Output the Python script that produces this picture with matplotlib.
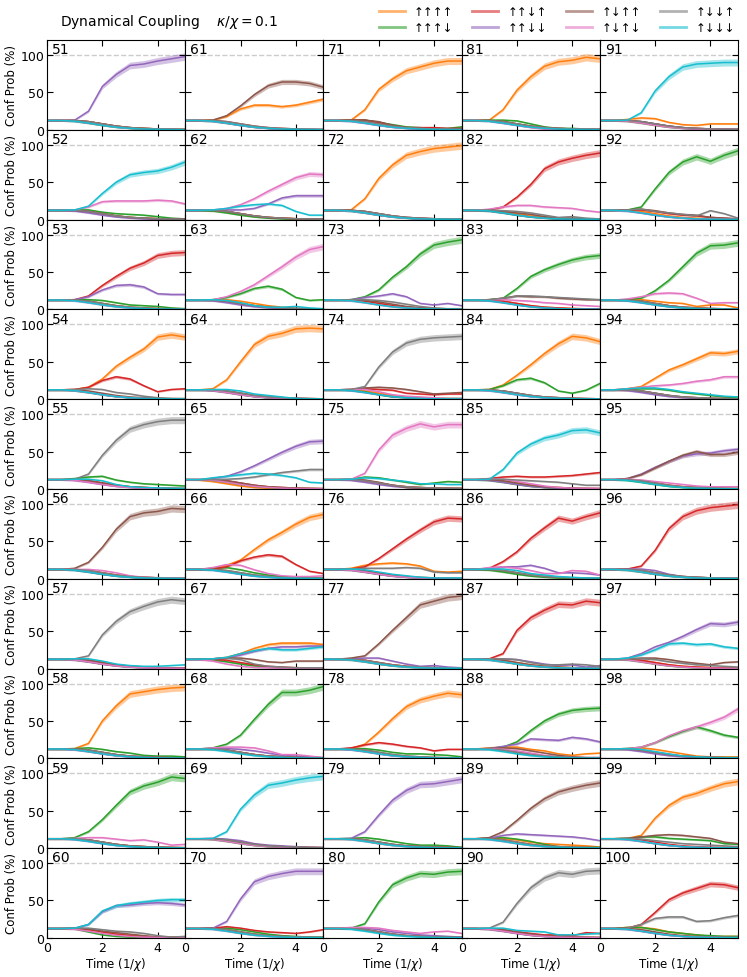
import numpy as np
import matplotlib
matplotlib.use("Agg")
import matplotlib.pyplot as plt
from matplotlib.lines import Line2D

# tiempo (1/chi) en el que se leyeron los puntos
t = [0, 0.5, 1.0, 1.5, 2.0, 2.5, 3.0, 3.5, 4.0, 4.5, 5.0]

keys = ['uuuu', 'uuud', 'uudu', 'uudd', 'uduu', 'udud', 'uddu', 'uddd']
labels = ['↑↑↑↑', '↑↑↑↓', '↑↑↓↑', '↑↑↓↓', '↑↓↑↑', '↑↓↑↓', '↑↓↓↑', '↑↓↓↓']
colors = ['C1', 'C2', 'C3', 'C4', 'C5', 'C6', 'C7', 'C9']

# curvas de fondo (configuraciones que decaen)
bg_slow = [12.5, 12.5, 12.5, 11, 8, 5, 3, 2, 1.2, 0.8, 0.5]
bg_fast = [12.5, 12.5, 11.5, 9, 6, 3.5, 2, 1, 0.6, 0.4, 0.3]

p51 = {'uudd': [12.5, 12.5, 13, 25, 58, 74, 86, 88, 92, 95, 98]}
p52 = {'uddd': [12.5, 12.5, 13, 18, 35, 50, 60, 63, 65, 70, 77],
       'udud': [12.5, 12.5, 13, 17, 24, 25, 25, 25, 26, 25, 21],
       'uuud': [12.5, 12.5, 13, 13, 10, 8, 7, 6, 4, 2, 1]}
p53 = {'uudu': [12.5, 12.5, 13, 18, 32, 44, 55, 62, 72, 75, 76],
       'uudd': [12.5, 12.5, 13, 17, 26, 32, 33, 30, 21, 20, 20],
       'uuud': [12.5, 12.5, 13, 13, 12, 9, 6, 5, 4, 2, 1]}
p54 = {'uuuu': [12.5, 12.5, 13, 16, 27, 44, 56, 67, 83, 86, 83],
       'uudu': [12.5, 12.5, 13, 16, 25, 30, 27, 18, 10, 13, 14],
       'uddu': [12.5, 12.5, 13, 14, 13, 9, 7, 4, 2, 1, 1]}
p55 = {'uddu': [12.5, 12.5, 13, 20, 45, 65, 80, 86, 90, 92, 92],
       'uuud': [12.5, 12.5, 14, 16, 17, 12, 9, 7, 6, 5, 4],
       'uddd': [12.5, 12.5, 13, 13, 11, 6, 3, 2, 1.5, 1, 1]}
p56 = {'uduu': [12.5, 12.5, 14, 22, 42, 66, 83, 88, 90, 94, 93],
       'udud': [12.5, 12.5, 12.5, 12.5, 11, 8, 4, 2, 1.5, 1, 1]}
p57 = {'uddu': [12.5, 12.5, 13, 17, 45, 63, 76, 83, 89, 92, 90],
       'uddd': [12.5, 12.5, 13, 13, 10, 6, 4, 3, 3, 4, 5]}
p58 = {'uuuu': [12.5, 12.5, 13, 20, 50, 70, 86, 89, 92, 94, 95],
       'uuud': [12.5, 12.5, 13, 14, 12, 9, 7, 4, 3, 3, 2]}
p59 = {'uuud': [12.5, 12.5, 14, 22, 38, 57, 75, 83, 88, 95, 93],
       'udud': [12.5, 12.5, 13, 14, 14, 12, 10, 11, 8, 4, 5]}
p60 = {'uddd': [12.5, 12.5, 13, 18, 36, 43, 46, 48, 50, 51, 51],
       'uudd': [12.5, 12.5, 13, 18, 35, 43, 44, 46, 47, 46, 44],
       'uddu': [12.5, 12.5, 13, 13, 11, 9, 8, 6, 3, 1, 2],
       'uduu': [12.5, 12.5, 13, 12, 9, 7, 5, 3, 1, 0.5, 0.5],
       'uuud': [12.5, 12.5, 12, 8, 4, 2, 1, 0.5, 0.3, 0.2, 0.2]}

p61 = {'uduu': [12.5, 12.5, 13, 19, 32, 47, 59, 64, 64, 62, 57],
       'uuuu': [12.5, 12.5, 13, 18, 28, 33, 33, 31, 33, 37, 41]}
p62 = {'udud': [12.5, 12.5, 13, 15, 20, 28, 38, 47, 56, 61, 60],
       'uudd': [12.5, 12.5, 13, 13, 13, 15, 21, 29, 32, 32, 32],
       'uddd': [12.5, 12.5, 13, 15, 18, 20, 21, 19, 11, 6, 6]}
p63 = {'udud': [12.5, 12.5, 13, 17, 24, 33, 45, 57, 70, 80, 84],
       'uuud': [12.5, 12.5, 13, 16, 21, 28, 31, 27, 16, 12, 13],
       'uddd': [12.5, 12.5, 13, 12, 9, 5, 3, 3, 4, 2, 1],
       'uuuu': [12.5, 12.5, 13, 13, 11, 8, 5, 3, 1, 0.5, 0.5]}
p64 = {'uuuu': [12.5, 12.5, 14, 26, 50, 73, 84, 88, 94, 95, 94],
       'uddd': [12.5, 12.5, 13, 13, 11, 7, 5, 3, 1, 0.5, 0.3]}
p65 = {'uudd': [12.5, 12.5, 14, 17, 23, 31, 40, 49, 57, 63, 64],
       'uddu': [12.5, 12.5, 12.5, 13, 14, 16, 19, 22, 24, 26, 26],
       'uddd': [12.5, 12.5, 15, 17, 19, 21, 20, 18, 15, 9, 8],
       'uuuu': [12.5, 12, 10, 7, 4, 2, 1, 0.5, 0.3, 0.2, 0.2]}
p66 = {'uuuu': [12.5, 12.5, 14, 18, 25, 39, 52, 62, 73, 82, 86],
       'uudu': [12.5, 12.5, 13, 16, 24, 29, 32, 30, 19, 10, 7],
       'udud': [12.5, 12.5, 15, 19, 18, 12, 7, 4, 3, 3, 4],
       'uuud': [12.5, 12.5, 14, 15, 12, 8, 5, 3, 2, 1, 1]}
p67 = {'uuuu': [12.5, 12.5, 13, 15, 20, 27, 32, 34, 34, 34, 32],
       'uudd': [12.5, 12.5, 13, 14, 18, 23, 27, 29, 29, 30, 30],
       'uddd': [12.5, 12.5, 13, 15, 20, 24, 27, 25, 25, 27, 29],
       'uduu': [12.5, 12.5, 13, 14, 14, 12, 9, 8, 10, 10, 10],
       'uddu': [12.5, 12.5, 13, 14, 12, 6, 3, 2, 1, 1, 1],
       'udud': [12.5, 12, 10, 6, 3, 1.5, 1, 0.5, 0.3, 0.3, 0.3]}
p68 = {'uuud': [12.5, 12.5, 14, 19, 31, 52, 72, 88, 88, 91, 96],
       'udud': [12.5, 12.5, 14, 15, 15, 14, 10, 5, 5, 3, 1],
       'uudd': [12.5, 12.5, 13, 13, 12, 10, 7, 4, 3, 2, 1]}
p69 = {'uddd': [12.5, 12.5, 13, 22, 52, 71, 84, 87, 91, 94, 96],
       'uudd': [12.5, 12.5, 13, 12, 10, 6, 4, 3, 2, 1, 1]}
p70 = {'uudd': [12.5, 12.5, 13, 22, 52, 75, 82, 86, 89, 89, 89],
       'uudu': [12.5, 12.5, 13, 15, 13, 10, 8, 7, 6, 8, 11],
       'uuud': [12.5, 12.5, 13, 13, 11, 8, 5, 3, 2, 1, 1]}

p71 = {'uuuu': [12.5, 12.5, 13, 27, 54, 68, 79, 84, 89, 92, 92],
       'uudu': [12.5, 12.5, 13, 13, 10, 6, 3, 3, 3, 2, 2],
       'uuud': [12.5, 12.5, 13, 13, 10, 7, 4, 3, 2, 2, 4],
       'uduu': [12.5, 12.5, 13, 13, 11, 6, 3, 2, 1, 1, 1]}
p72 = {'uuuu': [12.5, 12.5, 13, 28, 55, 73, 86, 91, 95, 97, 99]}
p73 = {'uuud': [12.5, 12.5, 13, 17, 26, 43, 57, 74, 86, 90, 93],
       'uudd': [12.5, 12.5, 13, 16, 18, 21, 17, 8, 6, 8, 5],
       'uddu': [12.5, 12.5, 13, 13, 12, 10, 7, 4, 2, 1, 1],
       'uduu': [12.5, 12.5, 13, 12, 10, 7, 4, 2, 1, 0.5, 0.5]}
p74 = {'uddu': [12.5, 12.5, 13, 17, 43, 63, 75, 80, 82, 83, 84],
       'uduu': [12.5, 12.5, 13, 15, 16, 15, 13, 10, 7, 8, 9],
       'uudu': [12.5, 12.5, 13, 14, 13, 12, 8, 7, 6, 7, 7],
       'udud': [12.5, 12.5, 13, 13, 10, 6, 4, 3, 2, 1, 1],
       'uuud': [12.5, 12.5, 12, 10, 6, 3, 2, 1, 1, 1, 1]}
p75 = {'udud': [12.5, 12.5, 13, 21, 52, 72, 81, 87, 83, 86, 86],
       'uuud': [12.5, 12.5, 13, 16, 15, 12, 9, 6, 8, 10, 9],
       'uddd': [12.5, 12.5, 13, 15, 14, 12, 10, 7, 7, 6, 6],
       'uduu': [12.5, 12.5, 13, 12, 9, 5, 2, 1, 1, 1, 1]}
p76 = {'uudu': [12.5, 12.5, 13, 16, 27, 40, 53, 65, 76, 81, 80],
       'uuuu': [12.5, 12.5, 14, 18, 20, 21, 20, 17, 10, 9, 10],
       'uddu': [12.5, 12.5, 13, 14, 14, 14, 15, 14, 9, 8, 8],
       'uddd': [12.5, 12.5, 13, 12, 9, 6, 4, 2, 1, 1, 1]}
p77 = {'uduu': [12.5, 12.5, 14, 17, 33, 51, 68, 85, 90, 95, 97],
       'uudd': [12.5, 12.5, 13, 14, 14, 10, 6, 3, 4, 2, 1]}
p78 = {'uuuu': [12.5, 12.5, 13, 19, 35, 53, 69, 78, 83, 87, 85],
       'uudu': [12.5, 12.5, 14, 18, 21, 19, 16, 14, 10, 12, 12],
       'uuud': [12.5, 12.5, 13, 13, 11, 8, 6, 6, 5, 4, 2]}
p79 = {'uudd': [12.5, 12.5, 13, 22, 44, 64, 77, 85, 86, 89, 92],
       'uuud': [12.5, 12.5, 13, 14, 12, 9, 6, 4, 4, 3, 1],
       'uuuu': [12.5, 12.5, 12, 10, 6, 4, 3, 2, 2, 1, 1]}
p80 = {'uuud': [12.5, 12.5, 13, 19, 48, 71, 80, 86, 85, 88, 89],
       'udud': [12.5, 12.5, 14, 14, 13, 10, 8, 6, 8, 9, 6],
       'uudd': [12.5, 12.5, 13, 13, 11, 8, 6, 4, 3, 2, 1]}

p81 = {'uuuu': [12.5, 12.5, 13, 27, 53, 71, 85, 91, 93, 97, 95],
       'uuud': [12.5, 12.5, 13, 13, 12, 8, 4, 2, 2, 1, 1],
       'udud': [12.5, 12.5, 12, 9, 6, 3, 1, 0.5, 0.5, 0.5, 0.5]}
p82 = {'uudu': [12.5, 12.5, 13, 17, 30, 47, 68, 77, 82, 86, 89],
       'udud': [12.5, 12.5, 14, 17, 19, 19, 17, 16, 15, 12, 10],
       'uddu': [12.5, 12.5, 13, 12, 11, 9, 6, 3, 4, 2, 1],
       'uduu': [12.5, 12.5, 12, 11, 9, 7, 4, 2, 2, 1, 1]}
p83 = {'uuud': [12.5, 12.5, 13, 15, 28, 44, 53, 60, 66, 70, 72],
       'uddu': [12.5, 12.5, 13, 15, 18, 18, 17, 16, 15, 14, 13],
       'uduu': [12.5, 12.5, 13, 15, 18, 17, 17, 15, 14, 13, 13],
       'udud': [12.5, 12.5, 13, 13, 12, 11, 9, 8, 6, 5, 4]}
p84 = {'uuuu': [12.5, 12.5, 13, 19, 32, 46, 61, 74, 84, 82, 77],
       'uuud': [12.5, 12.5, 13, 18, 26, 28, 22, 11, 8, 12, 21]}
p85 = {'uddd': [12.5, 12.5, 13, 26, 48, 60, 68, 72, 78, 79, 75],
       'uudu': [12.5, 12.5, 14, 16, 17, 16, 16, 17, 18, 20, 22],
       'uddu': [12.5, 12.5, 13, 13, 12, 11, 10, 9, 7, 5, 5],
       'udud': [12.5, 12.5, 13, 13, 10, 7, 4, 2, 1, 1, 1]}
p86 = {'uudu': [12.5, 12.5, 14, 23, 36, 54, 68, 81, 77, 83, 88],
       'uudd': [12.5, 12.5, 13, 16, 16, 18, 14, 8, 8, 7, 5],
       'udud': [12.5, 12.5, 15, 16, 14, 11, 7, 7, 11, 10, 5],
       'uddd': [12.5, 12.5, 13, 13, 11, 7, 5, 3, 2, 1, 1]}
p87 = {'uudu': [12.5, 12.5, 13, 20, 51, 68, 78, 86, 85, 90, 88],
       'uudd': [12.5, 12.5, 13, 13, 12, 9, 6, 4, 5, 2, 4],
       'uddu': [12.5, 12.5, 13, 13, 12, 8, 5, 5, 6, 5, 3]}
p88 = {'uuud': [12.5, 12.5, 13, 15, 22, 37, 50, 59, 64, 66, 67],
       'uudd': [12.5, 12.5, 13, 16, 19, 26, 25, 24, 28, 26, 22],
       'uuuu': [12.5, 12.5, 14, 15, 15, 12, 10, 6, 4, 6, 7],
       'uduu': [12.5, 12.5, 13, 14, 13, 10, 7, 4, 2, 1, 1],
       'udud': [12.5, 12.5, 13, 12, 10, 7, 4, 2, 1, 1, 1]}
p89 = {'uduu': [12.5, 12.5, 14, 22, 37, 53, 66, 75, 80, 84, 87],
       'uudd': [12.5, 12.5, 13, 17, 19, 18, 17, 16, 15, 13, 10],
       'uuuu': [12.5, 12.5, 13, 13, 11, 8, 6, 5, 4, 3, 1.5],
       'uuud': [12.5, 12.5, 13, 14, 12, 9, 5, 2, 1, 1, 1]}
p90 = {'uddu': [12.5, 12.5, 13, 21, 46, 67, 80, 87, 85, 89, 90],
       'uddd': [12.5, 12.5, 13, 13, 10, 9, 8, 4, 4, 5, 6],
       'uudu': [12.5, 12.5, 12, 10, 8, 6, 4, 4, 3, 7, 6]}

p91 = {'uddd': [12.5, 12.5, 13, 23, 52, 71, 84, 88, 89, 90, 90],
       'uuuu': [12.5, 12.5, 14, 16, 15, 10, 7, 6, 8, 8, 8],
       'uudd': [12.5, 12.5, 12, 11, 8, 5, 3, 1, 1, 1, 1]}
p92 = {'uuud': [12.5, 12.5, 13, 17, 41, 63, 77, 84, 78, 86, 92],
       'uddu': [12.5, 12.5, 13, 14, 11, 9, 7, 5, 12, 8, 2],
       'uduu': [12.5, 12.5, 13, 14, 12, 9, 7, 6, 3, 2, 1],
       'uudu': [12.5, 12.5, 13, 13, 11, 8, 6, 5, 3, 2, 1]}
p93 = {'uuud': [12.5, 12.5, 13, 15, 25, 39, 57, 75, 85, 86, 89],
       'udud': [12.5, 12.5, 14, 17, 21, 22, 21, 15, 8, 9, 9],
       'uuuu': [12.5, 12.5, 13, 13, 11, 9, 8, 4, 6, 6, 2]}
p94 = {'uuuu': [12.5, 12.5, 14, 17, 28, 39, 46, 54, 62, 61, 64],
       'udud': [12.5, 12.5, 14, 16, 18, 19, 21, 24, 26, 30, 30],
       'uddd': [12.5, 12.5, 14, 15, 15, 13, 10, 8, 6, 4, 3],
       'uuud': [12.5, 12.5, 13, 14, 14, 12, 9, 7, 5, 3, 2]}
p95 = {'uduu': [12.5, 12.5, 14, 19, 28, 37, 45, 50, 46, 46, 49],
       'uudd': [12.5, 12.5, 14, 20, 29, 37, 44, 47, 48, 51, 53],
       'udud': [12.5, 12.5, 13, 12, 10, 8, 6, 4, 3, 3, 3]}
p96 = {'uudu': [12.5, 12.5, 13, 17, 38, 67, 83, 91, 95, 97, 99],
       'uudd': [12.5, 12.5, 13, 13, 11, 6, 3, 2, 1, 1, 0.5]}
p97 = {'uudd': [12.5, 12.5, 14, 20, 29, 35, 43, 52, 60, 59, 62],
       'uddd': [12.5, 12.5, 14, 18, 25, 33, 34, 32, 33, 29, 27],
       'uduu': [12.5, 12.5, 13, 14, 14, 12, 9, 7, 5, 8, 9],
       'uddu': [12.5, 12.5, 13, 13, 12, 9, 7, 5, 4, 3, 2]}
p98 = {'udud': [12.5, 12.5, 13, 15, 21, 30, 37, 42, 48, 55, 66],
       'uuud': [12.5, 12.5, 13, 15, 21, 29, 36, 42, 37, 31, 28],
       'uuuu': [12.5, 12.5, 13, 14, 12, 9, 6, 3, 2, 2, 2],
       'uddd': [12.5, 12.5, 13, 12, 9, 6, 3, 2, 1, 1, 1]}
p99 = {'uuuu': [12.5, 12.5, 13, 17, 40, 57, 68, 73, 80, 86, 89],
       'uduu': [12.5, 12.5, 13, 15, 17, 18, 17, 15, 13, 8, 6],
       'uuud': [12.5, 12.5, 13, 15, 15, 13, 12, 11, 10, 6, 5],
       'uddu': [12.5, 12.5, 13, 12, 10, 8, 6, 5, 4, 3, 2]}
p100 = {'uudu': [12.5, 12.5, 13, 18, 34, 51, 60, 66, 72, 71, 67],
        'uddu': [12.5, 12.5, 13, 18, 26, 28, 28, 22, 23, 27, 30],
        'uuud': [12.5, 12.5, 14, 14, 11, 8, 6, 4, 3, 2, 2],
        'uuuu': [12.5, 12.5, 14, 14, 12, 8, 6, 4, 2, 2, 2]}

panels = {51: p51, 52: p52, 53: p53, 54: p54, 55: p55, 56: p56, 57: p57, 58: p58, 59: p59, 60: p60,
          61: p61, 62: p62, 63: p63, 64: p64, 65: p65, 66: p66, 67: p67, 68: p68, 69: p69, 70: p70,
          71: p71, 72: p72, 73: p73, 74: p74, 75: p75, 76: p76, 77: p77, 78: p78, 79: p79, 80: p80,
          81: p81, 82: p82, 83: p83, 84: p84, 85: p85, 86: p86, 87: p87, 88: p88, 89: p89, 90: p90,
          91: p91, 92: p92, 93: p93, 94: p94, 95: p95, 96: p96, 97: p97, 98: p98, 99: p99, 100: p100}

fig, axes = plt.subplots(10, 5, figsize=(7.47, 9.78), dpi=100, sharex=True, sharey=True)
fig.subplots_adjust(left=0.063, right=0.988, top=0.958, bottom=0.04, wspace=0, hspace=0)

for col in range(5):
    for row in range(10):
        n = 51 + col * 10 + row
        ax = axes[row, col]
        data = panels[n]
        ax.axhline(100, color='#cccccc', ls='--', lw=1, zorder=0)
        for i, k in enumerate(keys):
            if k in data:
                y = np.array(data[k], dtype=float)
            else:
                y = np.array(bg_slow if i % 2 == 0 else bg_fast, dtype=float)
            err = 0.6 + 0.045 * y
            ax.fill_between(t, y - err, y + err, color=colors[i], alpha=0.4, lw=0)
            ax.plot(t, y, color=colors[i], lw=1.1)
        ax.text(0.035, 0.975, str(n), transform=ax.transAxes, ha='left', va='top', fontsize=10)
        ax.set_xlim(0, 5)
        ax.set_ylim(0, 120)
        ax.set_xticks([0, 2, 4])
        ax.set_yticks([0, 50, 100])
        ax.tick_params(direction='in', top=True, right=True, labelsize=9, length=4, pad=2)
        if col == 0:
            ax.set_ylabel('Conf Prob (%)', fontsize=8.5, labelpad=2)
        if row == 9:
            ax.set_xlabel('Time (1/$\\chi$)', fontsize=8.5, labelpad=1)

fig.text(0.08, 0.978, 'Dynamical Coupling    $\\kappa/\\chi = 0.1$', fontsize=10, va='center')

handles = [Line2D([0], [0], color=c, lw=2, alpha=0.6) for c in colors]
fig.legend(handles, labels, loc='upper right', bbox_to_anchor=(0.998, 1.005), ncol=4,
           frameon=False, fontsize=8.5, handlelength=2.2, columnspacing=1.6, labelspacing=0.3)

fig.savefig('out.png', dpi=100)
